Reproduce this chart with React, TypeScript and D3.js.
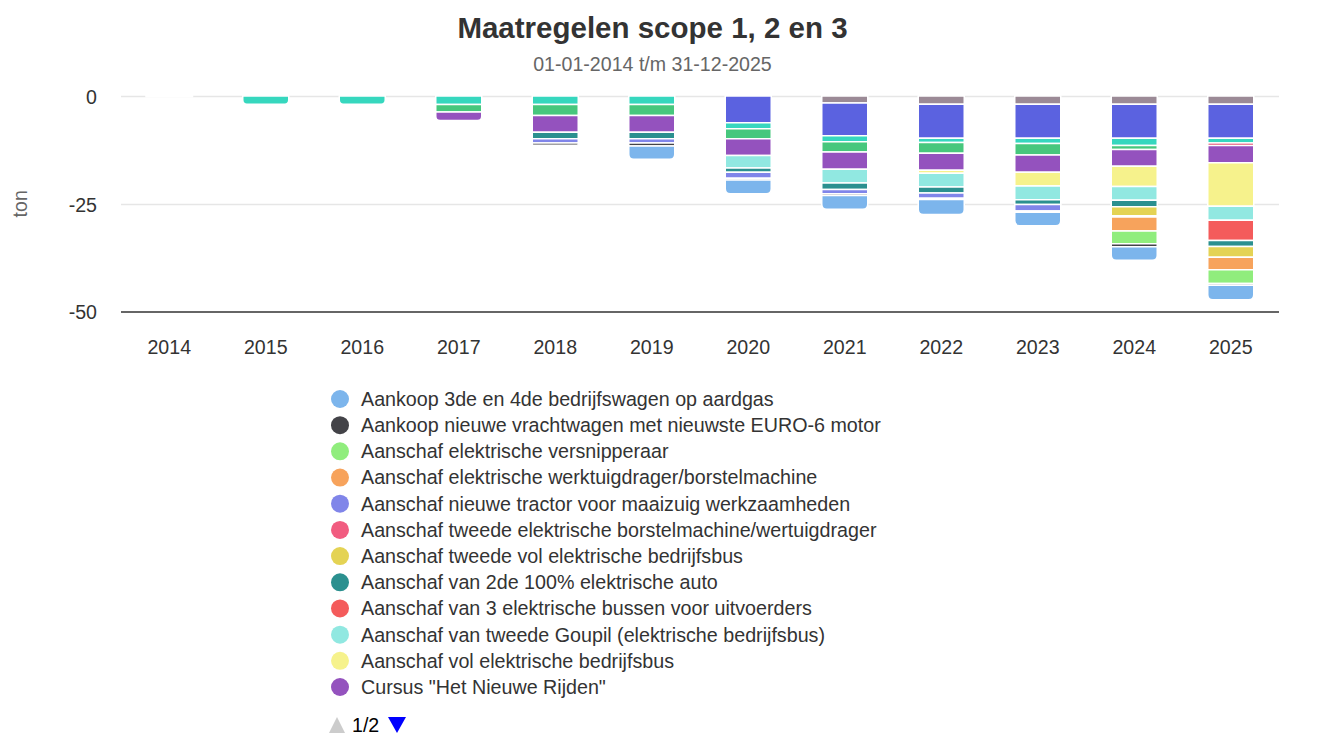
import React from "react";
import * as d3 from "d3";

const years = ["2014","2015","2016","2017","2018","2019","2020","2021","2022","2023","2024","2025"];

// Series listed in stacking order: index 0 is farthest from zero.
const seriesNames = [
  "Aankoop 3de en 4de bedrijfswagen op aardgas",
  "Aankoop nieuwe vrachtwagen met nieuwste EURO-6 motor",
  "Aanschaf elektrische versnipperaar",
  "Aanschaf elektrische werktuigdrager/borstelmachine",
  "Aanschaf nieuwe tractor voor maaizuig werkzaamheden",
  "Aanschaf tweede elektrische borstelmachine/wertuigdrager",
  "Aanschaf tweede vol elektrische bedrijfsbus",
  "Aanschaf van 2de 100% elektrische auto",
  "Aanschaf van 3 elektrische bussen voor uitvoerders",
  "Aanschaf van tweede Goupil (elektrische bedrijfsbus)",
  "Aanschaf vol elektrische bedrijfsbus",
  "Cursus \"Het Nieuwe Rijden\"",
  "Overige maatregel 1",
  "Overige maatregel 2",
  "Overige maatregel 3",
  "Overige maatregel 4",
  "Overige maatregel 5",
];

const seriesColors = [
  "#7cb5ec", "#434348", "#90ed7d", "#f7a35c", "#8085e9", "#f15c80",
  "#e4d354", "#2b908f", "#f45b5b", "#91e8e1", "#f6f28c", "#9452be",
  "#47c77d", "#dc1f4a", "#36d7be", "#5b62e0", "#9b8a96",
];

const N = null;
// values in ton (negative)
const sAardgas     = [N, N, N, N, N, -3.1, -3.2, -3.2, -3.5, -3.1, -3.1, -3.4];
const sVrachtwagen = [N, N, N, N, -0.5, -0.7, -0.4, -0.4, -0.3, -0.3, -0.7, -0.4];
const sVersnipper  = [N, N, N, N, N, N, N, N, N, N, -3.0, -3.2];
const sWerktuig    = [N, N, N, N, N, N, N, N, N, N, -3.2, -2.9];
const sTractor     = [N, N, N, N, -1.0, -1.0, -1.4, -1.0, -1.2, -1.5, -0.3, N];
const sBorstel2    = [N, N, N, N, N, N, N, N, N, N, N, N];
const sBus2        = [N, N, N, N, N, N, N, N, N, N, -2.1, -2.5];
const sAuto2       = [N, N, N, N, -1.5, -1.5, -1.0, -1.5, -1.4, -1.1, -1.5, -1.4];
const sBussen3     = [N, N, N, N, N, N, N, N, N, N, N, -4.7];
const sGoupil      = [N, N, N, N, N, N, -2.9, -3.2, -3.2, -3.2, -3.2, -3.2];
const sVolBus      = [N, N, N, N, N, N, N, N, -0.7, -3.2, -4.7, -10.1];
const sCursus      = [N, N, N, -2.0, -3.9, -3.9, -3.9, -4.0, -3.9, -4.0, -3.9, -4.0];
const sOverig1     = [N, N, N, -1.7, -2.5, -2.5, -2.3, -2.4, -2.5, -2.7, -0.9, N];
const sOverig2     = [N, N, N, N, N, N, N, N, N, N, N, -0.6];
const sOverig3     = [0, -1.9, -1.9, -2.0, -2.0, -2.0, -1.4, -1.4, -1.0, -1.2, -1.7, -1.1];
const sOverig4     = [N, N, N, N, N, N, -6.2, -7.6, -7.9, -7.9, -7.9, -7.9];
const sOverig5     = [N, N, N, N, N, N, N, -1.6, -1.9, -1.9, -1.9, -1.9];

const seriesValues = [
  sAardgas, sVrachtwagen, sVersnipper, sWerktuig, sTractor, sBorstel2, sBus2,
  sAuto2, sBussen3, sGoupil, sVolBus, sCursus, sOverig1, sOverig2, sOverig3, sOverig4, sOverig5,
];

const yTicks = [0, -25, -50];
const legendPageCount = 12;

const W = 1327, H = 735;
const FONT = "'Liberation Sans', Arial, Helvetica, sans-serif";

export default function App() {
  const x = d3.scaleBand().domain(years).range([121, 1279]).paddingInner(0).paddingOuter(0);
  const y = d3.scaleLinear().domain([-50, 0]).range([311.5, 96]);
  const barW = 46;
  const r = 5;

  const segs: any[] = [];
  const zeroMarks: any[] = [];
  years.forEach((yr, i) => {
    let acc = 0;
    const list: any[] = [];
    for (let s = seriesValues.length - 1; s >= 0; s--) {
      const v = seriesValues[s][i];
      if (v === null) continue;
      if (v === 0) { zeroMarks.push({ yr }); continue; }
      const y0 = acc, y1 = acc + v;
      acc = y1;
      list.push({ s, y0, y1, yr });
    }
    list.forEach((d, k) => { d.last = k === list.length - 1; segs.push(d); });
  });

  const segPath = (d: any) => {
    const x0 = (x(d.yr) as number) + (x.bandwidth() - barW) / 2;
    const x1 = x0 + barW;
    const top = y(d.y0);
    const bot = y(d.y1);
    if (!d.last) return `M${x0},${top}H${x1}V${bot}H${x0}Z`;
    const rr = Math.min(r, (bot - top) / 2);
    return `M${x0},${top}H${x1}V${bot - rr}Q${x1},${bot} ${x1 - rr},${bot}H${x0 + rr}Q${x0},${bot} ${x0},${bot - rr}Z`;
  };

  const legendY = d3.scalePoint().domain(d3.range(legendPageCount).map(String)).range([399, 687]);

  return (
    <div style={{ position: "fixed", left: 0, top: 0, width: W, height: H, background: "#fff" }}>
      <svg width={W} height={H} style={{ fontFamily: FONT, display: "block" }}>
        <rect width={W} height={H} fill="#ffffff" />
        <text x={652.5} y={38} textAnchor="middle" fontSize={29.5} fontWeight="bold" fill="#333333">
          Maatregelen scope 1, 2 en 3
        </text>
        <text x={652.5} y={71} textAnchor="middle" fontSize={19.6} fill="#666666">
          01-01-2014 t/m 31-12-2025
        </text>

        {yTicks.filter(t => t !== -50).map(t => (
          <line key={t} x1={121} x2={1279} y1={Math.round(y(t)) + 0.5} y2={Math.round(y(t)) + 0.5} stroke="#e6e6e6" strokeWidth={1.5} />
        ))}
        {yTicks.map(t => (
          <text key={"l" + t} x={97} y={y(t) + 1} dy="0.35em" textAnchor="end" fontSize={19.6} fill="#333333">{t}</text>
        ))}
        <text transform={`translate(27,${y(-25)}) rotate(-90)`} textAnchor="middle" fontSize={19.6} fill="#666666">ton</text>

        {segs.map((d, k) => (
          <path key={k} d={segPath(d)} fill={seriesColors[d.s]} stroke="#ffffff" strokeWidth={1.5} />
        ))}
        {zeroMarks.map((d, k) => (
          <rect key={"z" + k} x={(x(d.yr) as number) + (x.bandwidth() - barW) / 2 - 1} y={y(0) - 1} width={barW + 2} height={2.5} fill="#ffffff" />
        ))}

        <line x1={121} x2={1279} y1={312} y2={312} stroke="#333333" strokeWidth={1.5} />
        {years.map(yr => (
          <text key={yr} x={(x(yr) as number) + x.bandwidth() / 2} y={354} textAnchor="middle" fontSize={19.6} fill="#333333">{yr}</text>
        ))}

        {seriesNames.slice(0, legendPageCount).map((name, i) => {
          const cy = legendY(String(i)) as number;
          return (
            <g key={name}>
              <circle cx={340} cy={cy} r={9} fill={seriesColors[i]} />
              <text x={361} y={cy} dy="0.35em" fontSize={19.7} fill="#333333">{name}</text>
            </g>
          );
        })}
        <path d="M329,733L337,717L345,733Z" fill="#cccccc" />
        <text x={352} y={732} fontSize={19.6} fill="#000000">1/2</text>
        <path d="M388,717L406,717L397,733Z" fill="#0000ff" />
      </svg>
    </div>
  );
}
